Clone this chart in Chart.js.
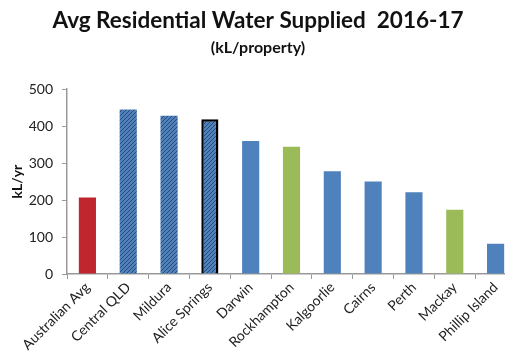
<!DOCTYPE html>
<html>
<head>
<meta charset="utf-8">
<script src="https://cdn.jsdelivr.net/npm/chart.js@4.4.1/dist/chart.umd.min.js"></script>
<style>
  html, body { margin: 0; padding: 0; background: #fff; overflow: hidden; }
  #wrap { width: 516px; height: 353px; }
</style>
</head>
<body>
<div id="wrap"><canvas id="grafica"></canvas></div>
<script>
const lugares = ["Australian Avg", "Central QLD", "Mildura", "Alice Springs", "Darwin", "Rockhampton", "Kalgoorlie", "Cairns", "Perth", "Mackay", "Phillip Island"];
const consumo = [207, 445, 428, 419, 360, 344, 278, 250, 221, 174, 82];
// tipo de barra: promedio, rayada, normal, regional
const tipos = ["avg", "hatch", "hatch", "hatch", "blue", "green", "blue", "blue", "blue", "green", "blue"];
const marcadas = ["Alice Springs"];
const ticksY = [0, 100, 200, 300, 400, 500];

const AZUL = "#4f81bd";
const VERDE = "#9bbb59";
const ROJO = "#c0262d";

function rayado() {
    const c = document.createElement("canvas");
    c.width = 4;
    c.height = 4;
    const g = c.getContext("2d");
    g.fillStyle = AZUL;
    g.fillRect(0, 0, 4, 4);
    g.strokeStyle = "#2a4a75";
    g.lineWidth = 1;
    g.beginPath();
    g.moveTo(-1, 5); g.lineTo(5, -1);
    g.moveTo(-1, 1); g.lineTo(1, -1);
    g.moveTo(3, 5); g.lineTo(5, 3);
    g.stroke();
    return g.createPattern(c, "repeat");
}

document.addEventListener("DOMContentLoaded", function() {
    const ctx = document.getElementById("grafica").getContext("2d");
    const patron = rayado();

    const colores = tipos.map(t => {
        if (t === "avg") return ROJO;
        if (t === "green") return VERDE;
        if (t === "hatch") return patron;
        return AZUL;
    });
    const bordes = lugares.map(l => marcadas.includes(l) ? 2.5 : 0);

    new Chart(ctx, {
        type: "bar",
        data: {
            labels: lugares,
            datasets: [{
                data: consumo,
                backgroundColor: colores,
                borderColor: "#000",
                borderWidth: bordes,
                barPercentage: 0.84,
                categoryPercentage: 0.5
            }]
        },
        options: {
            responsive: true,
            maintainAspectRatio: false,
            animation: false,
            layout: { padding: 0 },
            plugins: {
                legend: { display: false },
                tooltip: { enabled: false },
                title: {
                    display: true,
                    text: "Avg Residential Water Supplied  2016-17",
                    color: "#111",
                    font: { family: "Lato", size: 22.5, weight: "bold" },
                    padding: { top: 7, bottom: 2 }
                },
                subtitle: {
                    display: true,
                    text: "(kL/property)",
                    color: "#111",
                    font: { family: "Lato", size: 16, weight: "bold" },
                    padding: { top: 2, bottom: 32 }
                }
            },
            scales: {
                x: {
                    offset: true,
                    afterFit: scale => { scale.height = 79; },
                    grid: {
                        display: true,
                        offset: true,
                        drawOnChartArea: false,
                        drawTicks: true,
                        tickLength: 5,
                        color: "#999"
                    },
                    border: { color: "#999", width: 1.5 },
                    ticks: {
                        color: "#222",
                        font: { family: "Lato", size: 14 },
                        minRotation: 45,
                        maxRotation: 45,
                        padding: 0,
                        autoSkip: false
                    }
                },
                y: {
                    min: 0,
                    max: 500,
                    afterBuildTicks: axis => { axis.ticks = ticksY.map(v => ({ value: v })); },
                    afterFit: scale => { scale.width = 67; },
                    grid: {
                        display: true,
                        drawOnChartArea: false,
                        tickLength: 5,
                        color: "#999"
                    },
                    border: { color: "#999", width: 1.5 },
                    ticks: {
                        color: "#222",
                        font: { family: "Lato", size: 14 },
                        padding: 9
                    },
                    title: {
                        display: true,
                        text: "kL/yr",
                        color: "#111",
                        font: { family: "Lato", size: 14, weight: "bold" },
                        padding: { top: 9, bottom: 3 }
                    }
                }
            }
        }
    });
});
</script>
</body>
</html>
